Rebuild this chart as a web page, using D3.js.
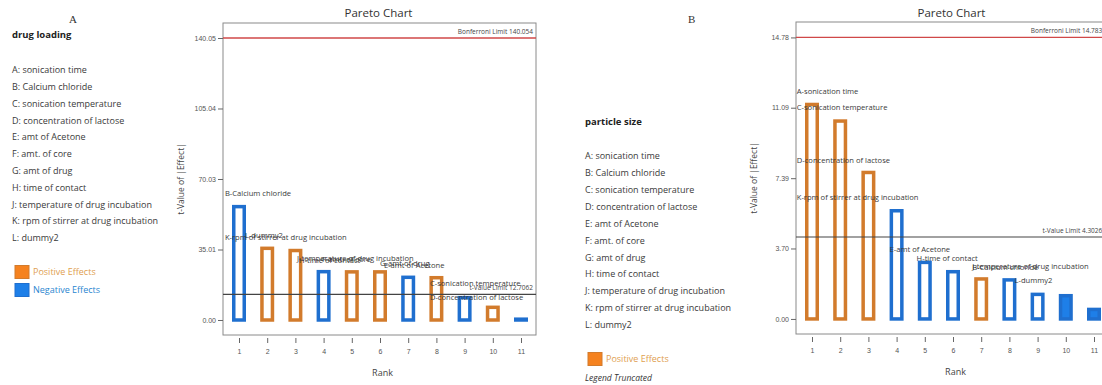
<!DOCTYPE html>
<html>
<head>
<meta charset="utf-8">
<script src="https://cdn.jsdelivr.net/npm/d3@7"></script>
<style>
  body { margin: 0; background: #fff; }
  svg { display: block; font-family: 'Open Sans', sans-serif; }
  .tick text { fill: #555; }
  .tick line { stroke: #666; }
</style>
</head>
<body>
<div class="container"></div>
<script>
const ranks = [1, 2, 3, 4, 5, 6, 7, 8, 9, 10, 11];

const factorNames = [
  'A: sonication time', 'B: Calcium chloride', 'C: sonication temperature',
  'D: concentration of lactose', 'E: amt of Acetone', 'F: amt. of core',
  'G: amt of drug', 'H: time of contact', 'J: temperature of drug incubation',
  'K: rpm of stirrer at drug incubation', 'L: dummy2'
];

// drug loading
const loadingValues = [56.3, 35.6, 34.5, 24.0, 23.9, 23.9, 21.2, 21.0, 11.1, 6.3, 0.4];
const loadingEffects = ['neg', 'pos', 'pos', 'neg', 'pos', 'pos', 'neg', 'pos', 'neg', 'pos', 'neg'];
const loadingTicks = [0.00, 35.01, 70.03, 105.04, 140.05];
const loadingExtent = [-7.45, 147.5];
const loadingTLimit = 12.7062;
const loadingBonferroni = 140.054;
const loadingTerms = [
  'B-Calcium chloride', 'K-rpm of stirrer at drug incubation', 'L-dummy2',
  'J-temperature of drug incubation', 'H-time of contact', 'F-amt. of core',
  'G-amt of drug', 'E-amt of Acetone', 'C-sonication temperature', 'D-concentration of lactose'
];
const loadingTermRanks = [0.5, 0.5, 1.21, 3.06, 3.13, 3.94, 6.0, 6.14, 7.77, 7.77];
const loadingTermAt = [63.1, 41.2, 42.2, 30.8, 29.8, 30.3, 28.3, 27.3, 18.4, 11.4];

// particle size
const sizeValues = [11.26, 10.39, 7.69, 5.68, 2.97, 2.48, 2.10, 2.05, 1.29, 1.22, 0.50];
const sizeEffects = ['pos', 'pos', 'pos', 'neg', 'neg', 'neg', 'pos', 'neg', 'neg', 'neg', 'neg'];
const sizeSolid = [false, false, false, false, false, false, false, false, false, true, true];
const sizeTicks = [0.00, 3.70, 7.39, 11.09, 14.78];
const sizeExtent = [-0.79, 15.59];
const sizeTLimit = 4.30265;
const sizeBonferroni = 14.7838;
const sizeTerms = [
  'A-sonication time', 'C-sonication temperature', 'D-concentration of lactose',
  'K-rpm of stirrer at drug incubation', 'E-amt of Acetone', 'H-time of contact',
  'J-temperature of drug incubation', 'B-Calcium chloride', 'L-dummy2'
];
const sizeTermRanks = [0.46, 0.46, 0.46, 0.46, 3.75, 4.71, 6.68, 6.68, 8.18];
const sizeTermAt = [11.97, 11.13, 8.34, 6.40, 3.67, 3.20, 2.78, 2.73, 2.05];

const colors = {
  pos: '#d27b2c',
  neg: '#1f6fcf',
  posFill: '#f5821f',
  negFill: '#1e7fe8',
  posText: '#e0a050',
  negText: '#2a86d0'
};

const svg = d3.select('.container').append('svg')
  .attr('width', 1102)
  .attr('height', 385);

const drawPareto = ({ left, top, width, height, values, effects, solid, ticks, extent, tLimit, bonferroni, terms, termRanks, termAt }) => {
  const right = left + width;
  const bottom = top + height;

  const scaleX = d3.scaleLinear()
    .domain([1, 11])
    .range([left + 16, left + 298]);

  const scaleY = d3.scaleLinear()
    .domain(extent)
    .range([bottom, top]);

  const group = svg.append('g');

  group.append('text')
    .attr('x', left + width / 2 - 1)
    .attr('y', 17)
    .attr('text-anchor', 'middle')
    .attr('font-size', 11.5)
    .attr('fill', '#333')
    .text('Pareto Chart');

  group.append('rect')
    .attr('x', left)
    .attr('y', top)
    .attr('width', width)
    .attr('height', height)
    .attr('fill', 'none')
    .attr('stroke', '#8a8a8a');

  const axisY = d3.axisLeft(scaleY)
    .tickValues(ticks)
    .tickFormat(d3.format('.2f'))
    .tickSize(5)
    .tickPadding(2);

  group.append('g')
    .attr('transform', `translate(${left}, 0)`)
    .call(axisY)
    .call(g => g.select('.domain').remove())
    .selectAll('text')
    .attr('font-size', 7);

  const axisX = d3.axisBottom(scaleX)
    .tickValues(ranks)
    .tickFormat(d3.format('d'))
    .tickSize(5)
    .tickPadding(6);

  group.append('g')
    .attr('transform', `translate(0, ${bottom + 3})`)
    .call(axisX)
    .call(g => g.select('.domain').remove())
    .selectAll('text')
    .attr('font-size', 7);

  group.append('text')
    .attr('x', left + width / 2 + 3)
    .attr('y', bottom + 41)
    .attr('text-anchor', 'middle')
    .attr('font-size', 9)
    .attr('fill', '#444')
    .text('Rank');

  group.append('text')
    .attr('transform', `translate(${left - 39}, ${top + height / 2}) rotate(-90)`)
    .attr('text-anchor', 'middle')
    .attr('font-size', 8.5)
    .attr('fill', '#444')
    .text('t-Value of |Effect|');

  // bars
  group.selectAll('rect.bar')
    .data(values)
    .enter()
    .append('rect')
    .attr('class', 'bar')
    .attr('x', (d, i) => scaleX(ranks[i]) - 5.25)
    .attr('width', 10.5)
    .attr('y', d => scaleY(d))
    .attr('height', d => scaleY(0) - scaleY(d))
    .attr('fill', (d, i) => (solid && solid[i]) ? colors[effects[i] + 'Fill'] : '#fff')
    .attr('stroke', (d, i) => colors[effects[i]])
    .attr('stroke-width', 3.5);

  // limits
  group.append('line')
    .attr('x1', left).attr('x2', right)
    .attr('y1', scaleY(tLimit)).attr('y2', scaleY(tLimit))
    .attr('stroke', '#444')
    .attr('stroke-width', 1.1);

  group.append('text')
    .attr('x', right - 3)
    .attr('y', scaleY(tLimit) - 4)
    .attr('text-anchor', 'end')
    .attr('font-size', 6.5)
    .attr('fill', '#444')
    .text(`t-Value Limit ${tLimit}`);

  group.append('line')
    .attr('x1', left).attr('x2', right)
    .attr('y1', scaleY(bonferroni)).attr('y2', scaleY(bonferroni))
    .attr('stroke', '#d04848')
    .attr('stroke-width', 1.3);

  group.append('text')
    .attr('x', right - 3)
    .attr('y', scaleY(bonferroni) - 4)
    .attr('text-anchor', 'end')
    .attr('font-size', 6.5)
    .attr('fill', '#444')
    .text(`Bonferroni Limit ${bonferroni}`);

  // term labels
  group.selectAll('text.term')
    .data(terms)
    .enter()
    .append('text')
    .attr('class', 'term')
    .attr('x', (d, i) => scaleX(termRanks[i]))
    .attr('y', (d, i) => scaleY(termAt[i]))
    .attr('dy', '0.35em')
    .attr('font-size', 7.6)
    .attr('fill', '#3a3a3a')
    .text(d => d);
};

const drawLegend = ({ x, letter, letterX, titleY, title, itemsY, step, entries, truncated }) => {
  const group = svg.append('g');

  group.append('text')
    .attr('x', letterX)
    .attr('y', 23)
    .attr('font-family', "'Liberation Serif', serif")
    .attr('font-size', 11)
    .attr('fill', '#333')
    .text(letter);

  group.append('text')
    .attr('x', x)
    .attr('y', titleY)
    .attr('dy', '0.35em')
    .attr('font-size', 9.5)
    .attr('font-weight', 'bold')
    .attr('fill', '#222')
    .text(title);

  group.selectAll('text.factor')
    .data(factorNames)
    .enter()
    .append('text')
    .attr('class', 'factor')
    .attr('x', x)
    .attr('y', (d, i) => itemsY + i * step)
    .attr('dy', '0.35em')
    .attr('font-size', 9)
    .attr('fill', '#3a3a3a')
    .text(d => d);

  const swatchY = itemsY + (factorNames.length - 1) * step + 34;

  entries.forEach((entry, i) => {
    group.append('rect')
      .attr('x', x + 3)
      .attr('y', swatchY + i * 18 - 6.5)
      .attr('width', 14)
      .attr('height', 13)
      .attr('fill', colors[entry + 'Fill'])
      .attr('stroke', colors[entry])
      .attr('stroke-width', 1);

    group.append('text')
      .attr('x', x + 21)
      .attr('y', swatchY + i * 18)
      .attr('dy', '0.35em')
      .attr('font-size', 9)
      .attr('fill', colors[entry + 'Text'])
      .text(entry === 'pos' ? 'Positive Effects' : 'Negative Effects');
  });

  if (truncated) {
    group.append('text')
      .attr('x', x)
      .attr('y', swatchY + 19)
      .attr('dy', '0.35em')
      .attr('font-size', 8.5)
      .attr('font-style', 'italic')
      .attr('fill', '#333')
      .text('Legend Truncated');
  }
};

drawLegend({
  x: 12, letter: 'A', letterX: 69, titleY: 35, title: 'drug loading',
  itemsY: 70, step: 16.8, entries: ['pos', 'neg'], truncated: false
});

drawLegend({
  x: 585, letter: 'B', letterX: 688, titleY: 122, title: 'particle size',
  itemsY: 156, step: 16.9, entries: ['pos'], truncated: true
});

drawPareto({
  left: 223, top: 23, width: 313, height: 312,
  values: loadingValues, effects: loadingEffects, solid: null,
  ticks: loadingTicks, extent: loadingExtent,
  tLimit: loadingTLimit, bonferroni: loadingBonferroni,
  terms: loadingTerms, termRanks: loadingTermRanks, termAt: loadingTermAt
});

drawPareto({
  left: 796, top: 22, width: 313, height: 312,
  values: sizeValues, effects: sizeEffects, solid: sizeSolid,
  ticks: sizeTicks, extent: sizeExtent,
  tLimit: sizeTLimit, bonferroni: sizeBonferroni,
  terms: sizeTerms, termRanks: sizeTermRanks, termAt: sizeTermAt
});
</script>
</body>
</html>
